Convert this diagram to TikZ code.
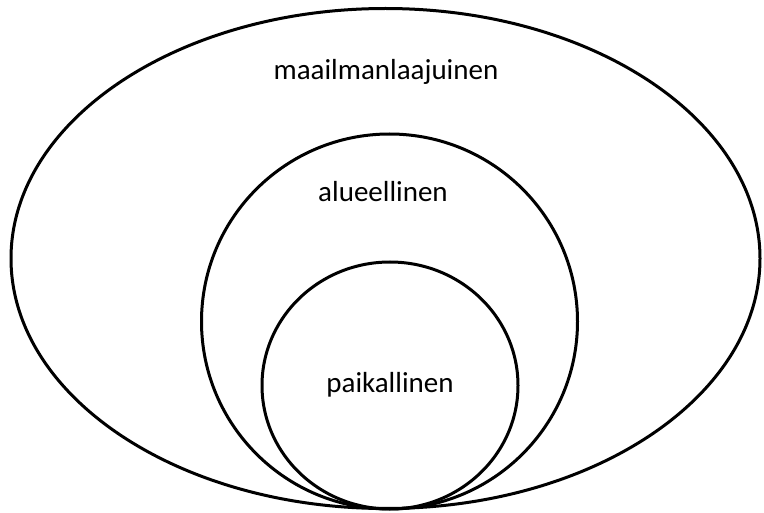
\documentclass[tikz,border=0pt]{standalone}
\usepackage{fontspec}
\setmainfont{Carlito}
\begin{document}
\begin{tikzpicture}[x=1pt,y=-1pt,
  ring/.style={draw=black,line width=3pt},
  lbl/.style={font=\fontsize{29}{34}\selectfont,anchor=base}]
\useasboundingbox (0,0) rectangle (764,513);
\draw[ring] (385.5,258.5) ellipse [x radius=374.5,y radius=250];
\draw[ring] (389.5,321.5) ellipse [x radius=188,y radius=187.5];
\draw[ring] (390,385.5) ellipse [x radius=128,y radius=123.5];
\node[lbl] (world) at (386,80) {maailmanlaajuinen};
\node[lbl] (region) at (383,201.5) {alueellinen};
\node[lbl] (local) at (390,392) {paikallinen};
\end{tikzpicture}
\end{document}
